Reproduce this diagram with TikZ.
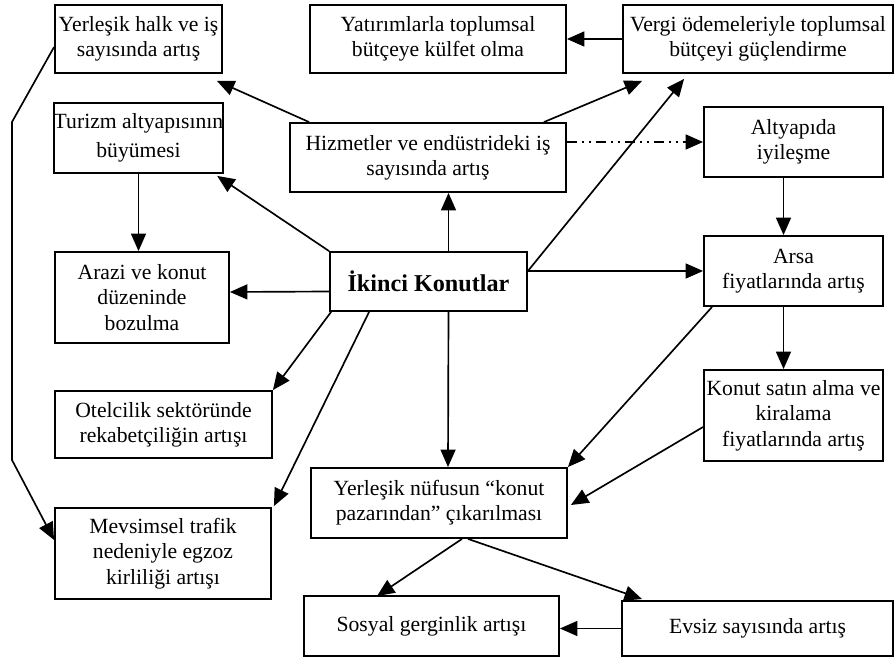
\documentclass[tikz,border=0pt]{standalone}
\usepackage{fontspec}
\setmainfont{Liberation Serif}
\usetikzlibrary{arrows.meta,calc}
\begin{document}
\begin{tikzpicture}[x=0.6pt,y=-0.6pt,
  box/.style args={#1/#2}{draw, line width=1.1pt, minimum width=#1*0.6pt, minimum height=#2*0.6pt,
    inner sep=0pt, align=center, font=\fontsize{13}{15.2}\selectfont},
  conn/.style={line width=1pt, -{Triangle[length=10.5pt,width=9pt]}},
  dashdot/.style={conn, dash pattern=on 6pt off 3pt on 1.2pt off 3pt on 1.2pt off 3pt}]
\useasboundingbox (0,0) rectangle (895,660);
\node[box=167/68] (yh) at (138.5,39) {Yerleşik halk ve iş\\sayısında artış};
\node[box=256/68] (yat) at (438,39) {Yatırımlarla toplumsal\\bütçeye külfet olma};
\node[box=270/68] (ver) at (758,39) {Vergi ödemeleriyle toplumsal\\bütçeyi güçlendirme};
\node[box=167/70] (tur) at (138.5,138) {Turizm altyapısının\\[2pt]büyümesi};
\node[box=276/69] (hiz) at (428,157.5) {Hizmetler ve endüstrideki iş\\sayısında artış};
\node[box=179/70] (alt) at (793.5,142) {Altyapıda\\iyileşme};
\node[box=197/59, font=\fontsize{14.5}{16}\selectfont\bfseries] (ik) at (428.5,281.5) {İkinci Konutlar};
\node[box=174/91] (ara) at (142,297.5) {Arazi ve konut\\düzeninde\\bozulma};
\node[box=179/70] (ars) at (793.5,271) {Arsa\\fiyatlarında artış};
\node[box=217/67] (ote) at (163.5,424.5) {Otelcilik sektöründe\\rekabetçiliğin artışı};
\node[box=179/91] (kon) at (793.5,415.5) {Konut satın alma ve\\kiralama\\fiyatlarında artış};
\node[box=256/70] (yn) at (439,503) {Yerleşik nüfusun “konut\\pazarından” çıkarılması};
\node[box=216/91] (mev) at (163,553.5) {Mevsimsel trafik\\nedeniyle egzoz\\kirliliği artışı};
\node[box=255/60] (sos) at (431.5,626) {Sosyal gerginlik artışı};
\node[box=271/55] (evs) at (757.5,628.5) {Evsiz sayısında artış};
\coordinate (k1) at (12,122);
\coordinate (k2) at (12,460);
% connectors
\draw[conn] ($(hiz.north west)+(20,0)$) -- ($(yh.south east)+(-6,7)$);
\draw[conn] ($(hiz.north east)+(-23,0)$) -- ($(ver.south west)+(20,7)$);
\draw[conn] (ars.west -| ik.east) -- ($(ver.south west)+(62,5)$);
\draw[dashdot] (alt.west -| hiz.east) -- (alt.west);
\draw[conn] (ver.west) -- (yat.east);
\draw[conn] (ik.north west) -- ($(tur.south east)+(-7,2)$);
\draw[conn] (tur.south) -- (tur.south |- ara.north);
\draw[conn] ($(ik.west)+(0,10)$) -- ($(ara.east)+(0,-5.5)$);
\draw[conn] ($(ik.south west)+(2,0)$) -- (ote.north east);
\draw[conn] ($(ik.south west)+(40,0)$) -- ($(mev.north east)+(2,-1)$);
\draw[conn] ($(ik.north)+(20,0)$) -- ($(hiz.south)+(20.5,0)$);
\draw[conn] ($(ik.south)+(20,0)$) -- ($(yn.north)+(9,0)$);
\draw[conn] (ars.west -| ik.east) -- (ars.west);
\draw[conn] ($(alt.south)+(-10,0)$) -- ($(ars.north)+(-10,0)$);
\draw[conn] ($(ars.south)+(-10,0)$) -- ($(kon.north)+(-10,0)$);
\draw[conn] ($(ars.south west)+(9,0)$) -- (yn.north east);
\draw[conn] ($(kon.west)+(0,11.5)$) -- ($(yn.east)+(3,2)$);
\draw[conn] ($(yn.south)+(23,0)$) -- ($(sos.north)+(-54.5,1)$);
\draw[conn] ($(yn.south)+(29,0)$) -- ($(evs.north)+(-115.5,-1)$);
\draw[conn] (evs.west) -- (evs.west -| sos.east);
\draw[conn] ($(yh.west)+(0,8)$) -- (k1) -- (k2) -- ($(mev.west)+(0,-13.5)$);
\end{tikzpicture}
\end{document}
